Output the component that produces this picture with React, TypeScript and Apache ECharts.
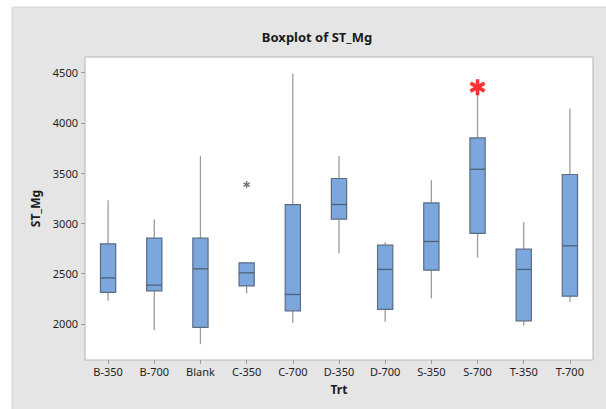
import React, { useEffect, useRef } from "react";
import * as echarts from "echarts";

// Treatment groups on the category axis
const categories = ["B-350", "B-700", "Blank", "C-350", "C-700", "D-350", "D-700", "S-350", "S-700", "T-350", "T-700"];

// Five-number summaries of ST_Mg per treatment
const whiskerLow = [2229, 1937, 1798, 2302, 2010, 2700, 2020, 2253, 2660, 1984, 2216];
const q1 = [2312, 2328, 1964, 2378, 2129, 3041, 2143, 2534, 2899, 2030, 2275];
const median = [2457, 2385, 2547, 2507, 2292, 3187, 2541, 2819, 3538, 2541, 2776];
const q3 = [2796, 2852, 2852, 2607, 3187, 3446, 2783, 3203, 3850, 2743, 3486];
const whiskerHigh = [3230, 3038, 3671, 2607, 4490, 3671, 2812, 3429, 4300, 3014, 4142];

// Outliers: ordinary ones and the highlighted one
const outlierPoints: [string, number][] = [["C-350", 3386]];
const flaggedPoints: [string, number][] = [["S-700", 4355]];

// Y axis ticks
const yTicks = [2000, 2500, 3000, 3500, 4000, 4500];

// Six-pointed asterisk outline for the outlier symbol
function asteriskPath(halfWidth: number): string {
  const c = 50;
  const L = 50;
  const parts: string[] = [];
  for (const deg of [90, 30, -30]) {
    const a = (deg * Math.PI) / 180;
    const dx = Math.cos(a), dy = Math.sin(a);
    const px = -dy, py = dx;
    const pts = [
      [c + L * dx + halfWidth * px, c + L * dy + halfWidth * py],
      [c + L * dx - halfWidth * px, c + L * dy - halfWidth * py],
      [c - L * dx - halfWidth * px, c - L * dy - halfWidth * py],
      [c - L * dx + halfWidth * px, c - L * dy + halfWidth * py],
    ];
    parts.push(
      "M" + pts.map((p) => p[0].toFixed(2) + " " + p[1].toFixed(2)).join(" L") + " Z"
    );
  }
  return "path://" + parts.join(" ");
}

const FONT = "'Noto Sans', 'DejaVu Sans', sans-serif";

export default function App() {
  const ref = useRef<HTMLDivElement>(null);

  useEffect(() => {
    if (!ref.current) return;
    const chart = echarts.init(ref.current, undefined, { renderer: "svg" });

    const boxData = categories.map((_, i) => [i, whiskerLow[i], q1[i], median[i], q3[i], whiskerHigh[i]]);

    chart.setOption({
      animation: false,
      backgroundColor: "#ffffff",
      graphic: [
        {
          type: "rect",
          z: -10,
          shape: { x: 12, y: 7, width: 600, height: 410 },
          style: { fill: "#e5e5e5", stroke: "#d6d6d6", lineWidth: 1 },
        },
        {
          type: "text",
          x: 317,
          y: 37,
          style: {
            text: "Boxplot of ST_Mg",
            font: `bold 13px ${FONT}`,
            fill: "#1a1a1a",
            textAlign: "center",
            textVerticalAlign: "middle",
          },
        },
      ],
      grid: {
        left: 85,
        right: 13,
        top: 57,
        bottom: 49,
        show: true,
        backgroundColor: "#ffffff",
        borderColor: "#b3b3b3",
        borderWidth: 1,
      },
      xAxis: {
        type: "category",
        data: categories,
        boundaryGap: true,
        name: "Trt",
        nameLocation: "middle",
        nameGap: 23,
        nameTextStyle: { fontFamily: FONT, fontWeight: "bold", fontSize: 12, color: "#1a1a1a" },
        axisLine: { show: false },
        axisTick: { show: true, alignWithLabel: true, length: 4, lineStyle: { color: "#9a9a9a" } },
        axisLabel: { fontFamily: FONT, fontSize: 11, color: "#1e1e1e", margin: 6 },
        splitLine: { show: false },
      },
      yAxis: {
        type: "value",
        min: 1640,
        max: 4655,
        name: "ST_Mg",
        nameLocation: "middle",
        nameGap: 41,
        nameTextStyle: { fontFamily: FONT, fontWeight: "bold", fontSize: 12, color: "#1a1a1a" },
        axisLine: { show: false },
        axisTick: { show: true, length: 4, customValues: yTicks, lineStyle: { color: "#9a9a9a" } },
        axisLabel: {
          fontFamily: FONT,
          fontSize: 11,
          color: "#1e1e1e",
          margin: 7,
          customValues: yTicks,
          formatter: (v: number) => String(v),
        },
        splitLine: { show: false },
      },
      series: [
        {
          type: "custom",
          data: boxData,
          encode: { x: 0, y: [1, 2, 3, 4, 5] },
          renderItem: (params: any, api: any) => {
            const idx = api.value(0);
            const pLow = api.coord([idx, api.value(1)]);
            const pQ1 = api.coord([idx, api.value(2)]);
            const pMed = api.coord([idx, api.value(3)]);
            const pQ3 = api.coord([idx, api.value(4)]);
            const pHigh = api.coord([idx, api.value(5)]);
            const bw = api.size([1, 0])[0] * 0.33;
            const cx = pQ1[0];
            const whisker = { stroke: "#9c9c9c", lineWidth: 1.3 };
            return {
              type: "group",
              children: [
                {
                  type: "line",
                  shape: { x1: cx, y1: pLow[1], x2: cx, y2: pQ1[1] },
                  style: whisker,
                },
                {
                  type: "line",
                  shape: { x1: cx, y1: pQ3[1], x2: cx, y2: pHigh[1] },
                  style: whisker,
                },
                {
                  type: "rect",
                  shape: { x: cx - bw / 2, y: pQ3[1], width: bw, height: pQ1[1] - pQ3[1] },
                  style: { fill: "#7ba7dc", stroke: "#5a6c84", lineWidth: 1.2 },
                },
                {
                  type: "line",
                  shape: { x1: cx - bw / 2, y1: pMed[1], x2: cx + bw / 2, y2: pMed[1] },
                  style: { stroke: "#4f5f75", lineWidth: 1.3 },
                },
              ],
            };
          },
        },
        {
          type: "scatter",
          data: outlierPoints,
          symbol: asteriskPath(10),
          symbolSize: [7, 7],
          itemStyle: { color: "#555555" },
          z: 5,
        },
        {
          type: "scatter",
          data: flaggedPoints,
          symbol: asteriskPath(11),
          symbolSize: [16, 16],
          itemStyle: { color: "#ff0000" },
          z: 6,
        },
      ],
    });

    return () => chart.dispose();
  }, []);

  return (
    <div
      ref={ref}
      style={{ position: "absolute", left: 0, top: 0, width: 606, height: 409 }}
    />
  );
}
